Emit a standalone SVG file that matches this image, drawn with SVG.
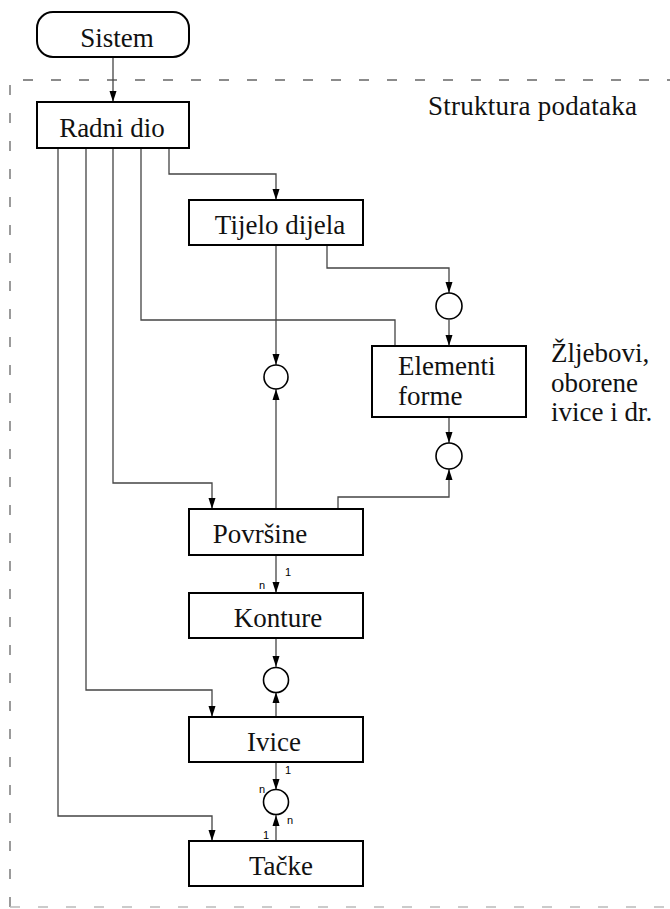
<svg xmlns="http://www.w3.org/2000/svg" width="670" height="909" viewBox="0 0 670 909">
<style>
.box{fill:#fff;stroke:#000;stroke-width:2}
.lbl{font-size:27px;fill:#111}
.small{font-size:11px;fill:#000}
.con{fill:none;stroke:#444;stroke-width:1.3}
.circ{fill:#fff;stroke:#000;stroke-width:1.6}
</style>
<defs>
<marker id="arr" markerUnits="userSpaceOnUse" markerWidth="11" markerHeight="8" refX="11" refY="4" orient="auto">
<path d="M0,0.5 L11,4 L0,7.5 z" fill="#000"/>
</marker>
</defs>
<rect width="670" height="909" fill="#fff"/>
<g id="frame" font-family="'Liberation Serif', 'Times New Roman', 'DejaVu Serif', serif">
<path d="M10,907 V80 H670" fill="none" stroke="#666" stroke-width="1.3" stroke-dasharray="10 18"/>
<path d="M10,907 H670" fill="none" stroke="#bbb" stroke-width="1.3" stroke-dasharray="10 18"/>
<text class="lbl" x="428" y="115" textLength="209" font-size="26">Struktura podataka</text>
</g>
<g id="connectors">
<path class="con" d="M113,57 V102" marker-end="url(#arr)"/>
<path class="con" d="M169,148 V174 H276 V200" marker-end="url(#arr)"/>
<path class="con" d="M141,148 V320 H395 V346"/>
<path class="con" d="M327,245 V268 H449 V293" marker-end="url(#arr)"/>
<path class="con" d="M449,320 V346" marker-end="url(#arr)"/>
<path class="con" d="M449,417 V443" marker-end="url(#arr)"/>
<path class="con" d="M338,509 V497 H449 V469" marker-end="url(#arr)"/>
<path class="con" d="M276,245 V365" marker-end="url(#arr)"/>
<path class="con" d="M276,509 V389" marker-end="url(#arr)"/>
<path class="con" d="M113,148 V483 H212 V509" marker-end="url(#arr)"/>
<path class="con" d="M276,555 V593" marker-end="url(#arr)"/>
<path class="con" d="M276,638 V667" marker-end="url(#arr)"/>
<path class="con" d="M276,717 V692" marker-end="url(#arr)"/>
<path class="con" d="M86,148 V690 H212 V717" marker-end="url(#arr)"/>
<path class="con" d="M276,762 V790" marker-end="url(#arr)"/>
<path class="con" d="M276,841 V815" marker-end="url(#arr)"/>
<path class="con" d="M58,148 V816 H212 V841" marker-end="url(#arr)"/>
</g>
<g font-family="'Liberation Serif', 'Times New Roman', 'DejaVu Serif', serif">
<g id="sistem">
<rect class="box" x="37" y="12" width="152" height="45" rx="16" ry="16" stroke-width="1.8"/>
<text class="lbl" x="117" y="47" text-anchor="middle">Sistem</text>
</g>
<g id="radni-dio">
<rect class="box" x="37" y="102" width="152" height="46"/>
<text class="lbl" x="112" y="137" text-anchor="middle">Radni dio</text>
</g>
<g id="tijelo-dijela">
<rect class="box" x="189" y="200" width="174" height="45"/>
<text class="lbl" x="280" y="234" text-anchor="middle">Tijelo dijela</text>
</g>
<g id="elementi-forme">
<rect class="box" x="372" y="346" width="154" height="71"/>
<text class="lbl" x="398" y="375" font-size="25">Elementi</text>
<text class="lbl" x="398" y="405" font-size="25">forme</text>
</g>
<g id="zljebovi-note">
<text class="lbl" x="551" y="362">Žljebovi,</text>
<text class="lbl" x="551" y="392">oborene</text>
<text class="lbl" x="551" y="421">ivice i dr.</text>
</g>
<g id="c-tijelo"><circle class="circ" cx="276" cy="377" r="12"/></g>
<g id="c-elem-top"><circle class="circ" cx="449" cy="306" r="13"/></g>
<g id="c-elem-bot"><circle class="circ" cx="449" cy="456" r="13"/></g>
<g id="povrsine">
<rect class="box" x="189" y="509" width="174" height="46"/>
<text class="lbl" x="260" y="543" text-anchor="middle">Površine</text>
</g>
<g id="konture">
<rect class="box" x="189" y="593" width="174" height="45"/>
<text class="lbl" x="278" y="627" text-anchor="middle">Konture</text>
</g>
<g id="c-konture"><circle class="circ" cx="276" cy="680" r="12.5"/></g>
<g id="ivice">
<rect class="box" x="189" y="717" width="174" height="45"/>
<text class="lbl" x="274" y="751" text-anchor="middle">Ivice</text>
</g>
<g id="c-ivice"><circle class="circ" cx="276" cy="802" r="12.5"/></g>
<g id="tacke">
<rect class="box" x="189" y="841" width="174" height="45"/>
<text class="lbl" x="281" y="875" text-anchor="middle">Tačke</text>
</g>
</g>
<g id="mult-labels" font-family="'Liberation Sans', Arial, sans-serif">
<text class="small" x="285" y="576">1</text>
<text class="small" x="259" y="589">n</text>
<text class="small" x="285" y="774">1</text>
<text class="small" x="259" y="793">n</text>
<text class="small" x="287" y="824">n</text>
<text class="small" x="263" y="839">1</text>
</g>
</svg>
